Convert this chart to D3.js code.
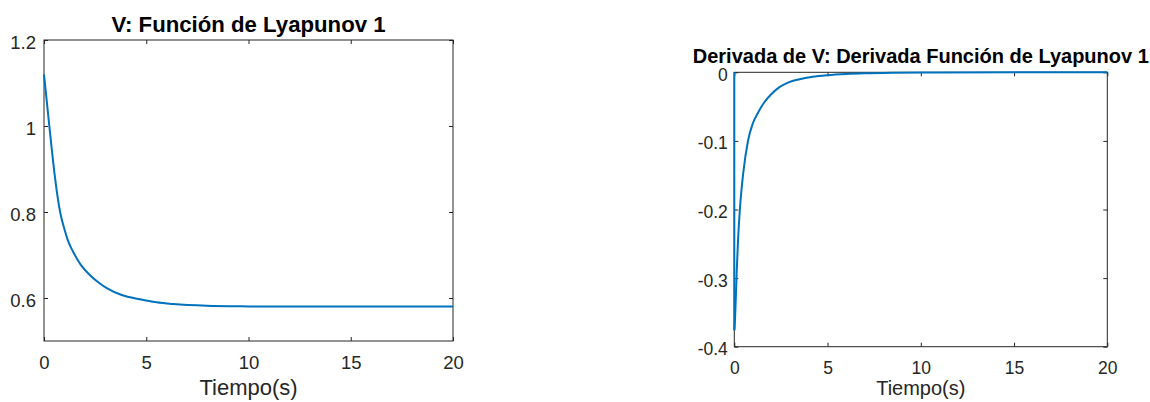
<!DOCTYPE html>
<html>
<head>
<meta charset="utf-8">
<script src="https://cdn.jsdelivr.net/npm/d3@7"></script>
<style>
  html, body { margin: 0; padding: 0; background: #fff; }
  svg { display: block; font-family: "Liberation Sans", Arial, Helvetica, sans-serif; }
</style>
</head>
<body>
<svg id="fig" width="1150" height="402"></svg>
<script>
// V(t): Lyapunov function samples
const vTime  = [0, 0.26, 0.5, 0.65, 0.8, 1.0, 1.2, 1.43, 1.8, 2.25, 2.7, 3.07, 3.8, 4.69, 5.5, 6.32, 7.96, 10, 11.5, 20];
const vValue = [1.12, 1.0, 0.895, 0.84, 0.797, 0.76, 0.73, 0.707, 0.677, 0.653, 0.635, 0.623, 0.607, 0.597, 0.590, 0.586, 0.582, 0.5805, 0.580, 0.580];

// dV/dt samples: jump at t = 0, then recovery towards zero
const dvJumpTime  = [0, 0];
const dvJumpValue = [0, -0.376];
const dvTime  = [0, 0.02, 0.08, 0.13, 0.2, 0.31, 0.47, 0.74, 1.0, 1.27, 1.6, 1.98, 2.4, 2.88, 3.5, 4.2, 5, 6, 7, 8.5, 11, 20];
const dvValue = [-0.376, -0.37, -0.33, -0.29, -0.245, -0.196, -0.149, -0.099, -0.074, -0.059, -0.044, -0.032, -0.022, -0.015, -0.010, -0.0065, -0.0042, -0.0025, -0.0015, -0.0007, -0.0002, 0];

// tick labels
const xTicks = [0, 5, 10, 15, 20];
const vTicks = [0.6, 0.8, 1, 1.2];
const dvTicks = [-0.4, -0.3, -0.2, -0.1, 0];

const INK = "#262626";
const LINE = "#0072BD";
const svg = d3.select("#fig");

function panel(cfg) {
  const x = d3.scaleLinear().domain([0, 20]).range([cfg.left, cfg.right]);
  const y = d3.scaleLinear().domain(cfg.yDomain).range([cfg.bottom, cfg.top]);
  const g = svg.append("g");
  const fmt = d => String(d);

  // bottom axis with labels
  const bx = g.append("g").attr("transform", `translate(0,${cfg.bottom})`)
    .call(d3.axisBottom(x).tickValues(xTicks).tickSize(-4).tickSizeOuter(0)
      .tickPadding(cfg.xPad).tickFormat(fmt));
  // top axis, ticks only
  const tx = g.append("g").attr("transform", `translate(0,${cfg.top})`)
    .call(d3.axisTop(x).tickValues(xTicks).tickSize(-4).tickSizeOuter(0).tickFormat(""));
  // left axis with labels
  const ly = g.append("g").attr("transform", `translate(${cfg.left},0)`)
    .call(d3.axisLeft(y).tickValues(cfg.yTicks).tickSize(-4).tickSizeOuter(0)
      .tickPadding(cfg.yPad).tickFormat(fmt));
  // right axis, ticks only
  const ry = g.append("g").attr("transform", `translate(${cfg.right},0)`)
    .call(d3.axisRight(y).tickValues(cfg.yTicks).tickSize(-4).tickSizeOuter(0).tickFormat(""));

  [bx, tx, ly, ry].forEach(a => {
    a.select(".domain").remove();
    a.selectAll(".tick line").attr("stroke", INK);
    a.selectAll(".tick text").attr("fill", INK).attr("font-size", cfg.tickFs)
      .attr("font-family", "Liberation Sans, Arial, sans-serif");
  });
  ly.selectAll(".tick text").attr("dy", "0.46em");

  // box
  g.append("rect")
    .attr("x", cfg.left).attr("y", cfg.top)
    .attr("width", cfg.right - cfg.left).attr("height", cfg.bottom - cfg.top)
    .attr("fill", "none").attr("stroke", INK).attr("stroke-width", 1);

  // axis label
  g.append("text")
    .attr("x", (cfg.left + cfg.right) / 2).attr("y", cfg.labelY)
    .attr("text-anchor", "middle").attr("fill", INK)
    .attr("font-size", cfg.labelFs).text("Tiempo(s)");

  // title
  g.append("text")
    .attr("x", (cfg.left + cfg.right) / 2).attr("y", cfg.titleY)
    .attr("text-anchor", "middle").attr("fill", "#000")
    .attr("font-weight", "bold").attr("font-size", cfg.titleFs)
    .text(cfg.title);

  return { g, x, y };
}

// left panel: V
const p1 = panel({
  left: 44, right: 453, top: 40, bottom: 341,
  yDomain: [0.5, 1.2], yTicks: vTicks,
  xPad: 15, yPad: 8, tickFs: 18.5, labelFs: 22, labelY: 395,
  titleFs: 22.2, titleY: 32, title: "V: Función de Lyapunov 1"
});
p1.g.append("path")
  .datum(d3.zip(vTime, vValue))
  .attr("fill", "none").attr("stroke", LINE).attr("stroke-width", 2)
  .attr("d", d3.line().x(d => p1.x(d[0])).y(d => p1.y(d[1])).curve(d3.curveMonotoneX));

// right panel: dV/dt
const p2 = panel({
  left: 734.3, right: 1107.3, top: 72.3, bottom: 346.7,
  yDomain: [-0.4, 0], yTicks: dvTicks,
  xPad: 14.5, yPad: 6.5, tickFs: 17.5, labelFs: 20, labelY: 395,
  titleFs: 20, titleY: 63, title: "Derivada de V: Derivada Función de Lyapunov 1"
});
p2.g.append("path")
  .datum(d3.zip(dvJumpTime, dvJumpValue))
  .attr("fill", "none").attr("stroke", LINE).attr("stroke-width", 2)
  .attr("d", d3.line().x(d => p2.x(d[0])).y(d => p2.y(d[1])));
p2.g.append("path")
  .datum(d3.zip(dvTime, dvValue))
  .attr("fill", "none").attr("stroke", LINE).attr("stroke-width", 2)
  .attr("d", d3.line().x(d => p2.x(d[0])).y(d => p2.y(d[1])).curve(d3.curveMonotoneX));
</script>
</body>
</html>
